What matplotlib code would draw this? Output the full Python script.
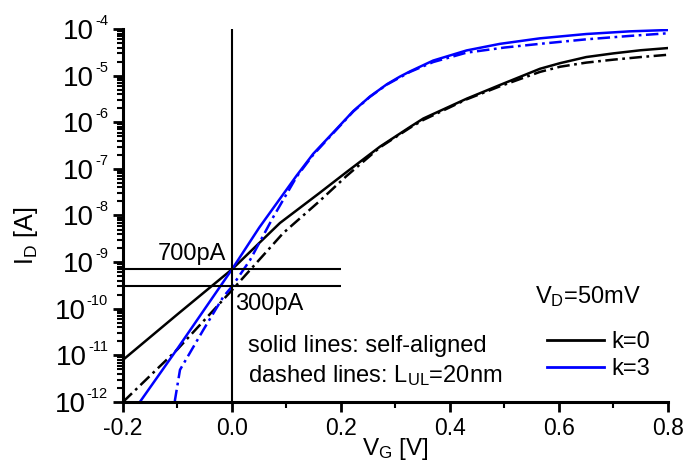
import matplotlib
matplotlib.use("Agg")
import matplotlib.pyplot as plt
from matplotlib.lines import Line2D
from matplotlib.ticker import LogLocator, FixedLocator, NullFormatter, MultipleLocator
from matplotlib.transforms import offset_copy
import numpy as np

plt.rcParams['font.family'] = ['Liberation Sans', 'DejaVu Sans']
plt.rcParams['mathtext.fontset'] = 'custom'
plt.rcParams['mathtext.rm'] = 'Liberation Sans'
plt.rcParams['mathtext.it'] = 'Liberation Sans:italic'
plt.rcParams['mathtext.bf'] = 'Liberation Sans:bold'
plt.rcParams['axes.unicode_minus'] = False

# ---- data (V_G in V, I_D in A) ----
vg_k0_sa = [-0.2, -0.1, 0.0, 0.088, 0.16, 0.21, 0.2716, 0.3266, 0.351, 0.4306, 0.4917, 0.565, 0.602, 0.65, 0.70, 0.75, 0.80]
id_k0_sa = [8.0e-12, 7.6e-11, 7.0e-10, 6.9e-9, 3.0e-8, 8.5e-8, 3.0e-7, 7.9e-7, 1.2e-6, 3.2e-6, 6.3e-6, 1.4e-5, 1.85e-5, 2.5e-5, 3.0e-5, 3.5e-5, 3.9e-5]

vg_k0_ul = [-0.2, -0.1, 0.0, 0.094, 0.16, 0.21, 0.2716, 0.3266, 0.351, 0.4306, 0.4917, 0.565, 0.602, 0.65, 0.70, 0.75, 0.80]
id_k0_ul = [1.0e-12, 1.35e-11, 2.5e-10, 4.2e-9, 2.0e-8, 7.0e-8, 2.9e-7, 7.6e-7, 1.12e-6, 3.1e-6, 5.9e-6, 1.2e-5, 1.55e-5, 1.9e-5, 2.2e-5, 2.5e-5, 2.8e-5]

vg_k3_sa = [-0.2, -0.169, -0.1, 0.0, 0.05, 0.1187, 0.149, 0.192, 0.2226, 0.253, 0.284, 0.308, 0.3266, 0.369,
            0.4306, 0.4917, 0.565, 0.65, 0.73, 0.80]
id_k3_sa = [3.0e-13, 1.0e-12, 1.4e-11, 7.0e-10, 5.5e-9, 7.2e-8, 2.1e-7, 7.2e-7, 1.74e-6, 3.55e-6, 6.5e-6, 9.5e-6, 1.23e-5, 2.1e-5,
            3.47e-5, 4.8e-5, 6.3e-5, 7.8e-5, 8.9e-5, 9.5e-5]

vg_k3_ul = [-0.108, -0.1046, -0.0954, -0.0527, -0.016, 0.0, 0.033, 0.0758, 0.1187, 0.149, 0.192, 0.2226, 0.253, 0.284,
            0.3266, 0.369, 0.43, 0.50, 0.565, 0.65, 0.73, 0.80]
id_k3_ul = [3.0e-13, 1.1e-12, 4.9e-12, 3.5e-11, 1.8e-10, 3.0e-10, 1.1e-9, 9.3e-9, 6.8e-8, 2.0e-7, 7.0e-7, 1.7e-6, 3.5e-6, 6.4e-6,
            1.2e-5, 1.95e-5, 3.1e-5, 4.0e-5, 4.8e-5, 6.0e-5, 7.1e-5, 8.1e-5]

ref_currents = [7e-10, 3e-10]
ref_labels = ["700pA", "300pA"]
x_ticks = [-0.2, 0.0, 0.2, 0.4, 0.6, 0.8]
x_ticklabels = ["-0.2", "0.0", "0.2", "0.4", "0.6", "0.8"]
y_exponents = [-12, -11, -10, -9, -8, -7, -6, -5, -4]

black = "#000000"
blue = "#0000ff"
dashdot = (0, (5.0, 1.8, 1.1, 1.8))

fig = plt.figure(figsize=(6.84, 4.63), dpi=100)
ax = fig.add_axes([0.1798, 0.1318, 0.7968, 0.8056])

lw = 1.8
ax.plot(vg_k0_sa, id_k0_sa, color=black, lw=lw, solid_joinstyle='round')
ax.plot(vg_k0_ul, id_k0_ul, color=black, lw=lw, linestyle=dashdot)
ax.plot(vg_k3_sa, id_k3_sa, color=blue, lw=lw, solid_joinstyle='round')
ax.plot(vg_k3_ul, id_k3_ul, color=blue, lw=lw, linestyle=dashdot)

# reference lines
ax.axvline(0.0, color=black, lw=1.5)
ax.hlines(ref_currents, -0.2, 0.2, color=black, lw=1.5)

ax.set_yscale('log')
ax.set_xlim(-0.2, 0.8)
ax.set_ylim(1e-12, 1e-4)

ax.xaxis.set_major_locator(FixedLocator(x_ticks))
ax.set_xticklabels(x_ticklabels)
ax.xaxis.set_minor_locator(MultipleLocator(0.1))
ax.yaxis.set_major_locator(FixedLocator([10.0 ** e for e in y_exponents]))
ax.yaxis.set_major_formatter(NullFormatter())
ax.yaxis.set_minor_locator(LogLocator(base=10, subs=np.arange(2, 10), numticks=50))
ax.yaxis.set_minor_formatter(NullFormatter())

for s in ['top', 'right']:
    ax.spines[s].set_visible(False)
for s in ['left', 'bottom']:
    ax.spines[s].set_linewidth(2.2)

ax.tick_params(axis='both', which='major', direction='out', length=7, width=2.0)
ax.tick_params(axis='both', which='minor', direction='out', length=4, width=1.5)
ax.tick_params(axis='x', labelsize=16.5, pad=4)

# y tick labels: large "10" with small raised exponent, right-aligned as a unit
renderer = fig.canvas.get_renderer()
x_right = (108 - 123) / 545.0
for e in y_exponents:
    t_exp = ax.text(x_right, 10.0 ** e, "%d" % e, fontsize=10.5, ha='right', va='baseline',
                    transform=offset_copy(ax.get_yaxis_transform(), fig=fig, x=0, y=4, units='dots'),
                    clip_on=False)
    w = t_exp.get_window_extent(renderer=renderer).width
    ax.text(x_right, 10.0 ** e, "10", fontsize=20, ha='right', va='baseline',
            transform=offset_copy(ax.get_yaxis_transform(), fig=fig, x=-w - 1, y=-10, units='dots'),
            clip_on=False)

ax.set_xlabel(r"V$_\mathrm{G}$ [V]", fontsize=17.5, labelpad=-3)
ax.set_ylabel(r"I$_\mathrm{D}$ [A]", fontsize=18)
ax.yaxis.set_label_coords(-0.152, 0.445)

# annotations
fs = 17
ax.text(-0.011, 1.1e-9, ref_labels[0], fontsize=fs, ha='right', va='baseline')
ax.text(0.006, 9.3e-11, ref_labels[1], fontsize=fs, ha='left', va='baseline')
ax.text(0.556, 1.34e-10, r"V$_\mathrm{D}$=50mV", fontsize=fs, ha='left', va='baseline')
ax.text(0.03, 1.2e-11, "solid lines: self-aligned", fontsize=fs, ha='left', va='baseline')
ax.text(0.03, 2.72e-12, r"dashed lines: L$_\mathrm{UL}$=20nm", fontsize=fs, ha='left', va='baseline')

handles = [Line2D([], [], color=black, lw=2.0), Line2D([], [], color=blue, lw=2.0)]
ax.legend(handles, ["k=0", "k=3"], loc='upper left', bbox_to_anchor=(0.7775, 0.190),
          frameon=False, fontsize=fs, handlelength=2.42, handletextpad=0.3,
          labelspacing=0.2, borderpad=0, borderaxespad=0)

fig.savefig("out.png", dpi=100)
